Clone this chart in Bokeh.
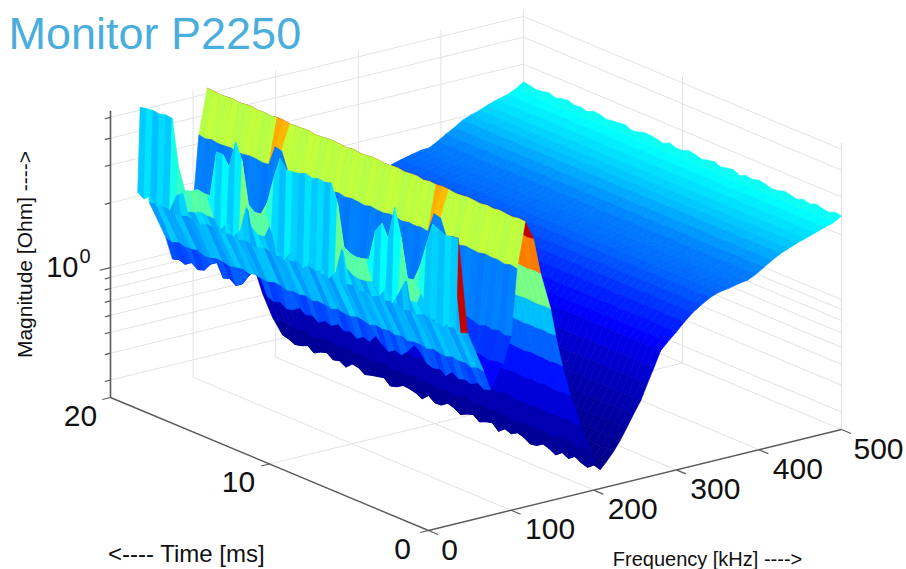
import math
from bokeh.plotting import figure
from bokeh.models import Range1d, ColumnDataSource
from bokeh.core.properties import value
from bokeh.embed import file_html
from bokeh.resources import INLINE

title = "Monitor P2250"
time_label = "<---- Time [ms]"
freq_label = "Frequency [kHz] ---->"
mag_label = "Magnitude [Ohm] ---->"
freq_ticks = [0, 100, 200, 300, 400, 500]
time_ticks = [0, 10, 20]
mag_ticks = [0.3, 0.4, 0.5, 0.6, 0.7, 0.8, 0.9, 1, 2, 3, 4, 5]

# time samples of the surface, ms
times = [0.4 * i for i in range(51)]

# log10(Ohm) along time, front ridge
row33 = [.30, .32, .29, .31, .30, .38, .43, .435, .43, .36,
         .30, .36, .31, .36, .445, .435, .43, .435, .455, .33,
         .29, .32, .30, .33, .29, .31, .34, .29, .32, .40,
         .48, .445, .44, .465, .34, .30, .35, .31, .35, .43,
         .43, .435, .415, .405, .38, .30, .32, .29, .33, .30, .32]
row36 = [.722, .717, .708, .722, .736, .629, .515, .44, .435, .615,
         .740, .582, .642, .596, .45, .44, .435, .44, .46, .652,
         .731, .722, .726, .717, .726, .712, .708, .703, .745, .642,
         .515, .45, .445, .47, .661, .736, .605, .652, .652, .435,
         .435, .44, .42, .41, .506, .722, .726, .717, .722, .717, .712]
row40 = [.56, .55, .54, .55, .56, .50, .42, .335, .33, .50,
         .56, .48, .52, .48, .345, .335, .33, .335, .355, .52,
         .56, .55, .56, .55, .56, .55, .55, .54, .56, .52,
         .42, .345, .34, .365, .52, .56, .49, .52, .52, .33,
         .33, .335, .32, .31, .42, .55, .56, .55, .56, .55, .55]
row75 = [-.02, -.03, -.01, -.03, -.02, -.03, -.01, -.04, -.02, -.03,
         -.02, .02, .04, .00, -.03, -.02, -.04, -.02, .01, -.03,
         -.02, -.04, -.02, -.03, -.01, -.03, -.02, -.04, -.02, -.03,
         -.01, -.03, -.04, -.02, -.03, -.02, .05, .09, .04, -.01,
         -.03, -.01, -.02, .04, .02, -.02, -.03, -.01, -.03, -.02, -.03]
row107_peaks = [0, 0, 0, 0, 0, 0, 0, 0, 0, 0,
                0, 0, .09, .09, 0, 0, 0, 0, 0, 0,
                0, 0, 0, 0, 0, 0, 0, 0, 0, 0,
                0, 0, 0, 0, 0, 0, 0, .09, .09, 0,
                0, 0, 0, 0, 0, 0, 0, 0, 0, 0, 0]

ripple_a = [.008, -.006, .011, -.003, .007, -.010, .004, .012, -.008, .002,
            -.012, .006, .010, -.004, .009, -.011, .003, -.007, .012, -.002,
            .005, -.009, .010, -.005, .001, .011, -.012, .006, -.003, .009,
            -.008, .004, .012, -.010, .002, .007, -.006, .011, -.001, -.009,
            .005, .010, -.012, .003, .008, -.004, -.011, .006, .001, .009, -.007]
ripple_b = [-.004, .009, -.011, .006, .002, .012, -.007, -.002, .010, -.009,
            .005, .001, -.012, .008, -.005, .011, -.001, .007, -.010, .004,
            .012, -.006, -.003, .009, -.011, .002, .007, -.008, .010, -.004,
            .003, -.012, .006, .011, -.007, -.001, .009, -.005, .012, .002,
            -.010, .004, .008, -.006, -.012, .010, .001, -.003, .011, -.009, .005]
ripple_c = [.003, .010, -.008, -.001, .012, -.005, .007, -.011, .001, .009,
            -.006, -.010, .004, .011, -.002, .006, -.012, .009, .003, -.007,
            .010, .002, -.009, .005, .012, -.004, -.006, .011, -.010, .001,
            .007, .009, -.005, -.012, .008, .003, -.002, -.009, .006, .010,
            -.011, .002, -.004, .012, .005, -.008, .009, -.001, -.006, .004, .010]

# frequency rows: kHz, log10(Ohm), ripple series, ripple scale
row_freq = [47, 67, 90, 100, 107, 117, 127, 135.6, 147.7, 153.8, 162, 172, 184, 196, 208,
            216, 224, 232, 240, 248, 257, 265, 273, 281, 290, 300, 310, 320, 330, 341,
            352, 364, 376, 386, 396, 406, 416, 426, 436, 446, 456, 468, 480, 490, 500]
row_level = [.265, .075, .080, .200, .515, .722, .633, .466, .289, .159, .010, -.139, -.288, -.418, -.520,
             -.488, -.446, -.404, -.353, -.297, -.241, -.171, -.102, -.032, .001, .038, .075, .108, .135, .159,
             .173, .182, .191, .196, .215, .238, .261, .284, .298, .312, .326, .340, .354, .368, .387]
row_ripple = [ripple_a, ripple_b, ripple_c, ripple_a, ripple_b, ripple_c, ripple_a, ripple_b, ripple_c, ripple_a,
              ripple_b, ripple_c, ripple_a, ripple_b, ripple_c, ripple_a, ripple_b, ripple_c, ripple_a, ripple_b,
              ripple_c, ripple_a, ripple_b, ripple_c, ripple_a, ripple_b, ripple_c, ripple_a, ripple_b, ripple_c,
              ripple_a, ripple_b, ripple_c, ripple_a, ripple_b, ripple_c, ripple_a, ripple_b, ripple_c, ripple_a,
              ripple_b, ripple_c, ripple_a, ripple_b, ripple_c]
row_scale = [.8, .6, .6, .8, .4, .3, .3, .2, .2, .2, .3, .4, .5, .8, 1.3,
             .5, .3, .2, .15, .15, .15, .15, .15, .15, .15, .15, .15, .15, .15, .15,
             .15, .15, .15, .15, .15, .15, .15, .15, .15, .15, .15, .15, .2, .3, .7]

LOG_FLOOR = -0.604
C_MIN, C_SPAN = 0.25, 5.4


def project(f, t, logm):
    h = (logm - LOG_FLOOR) * 215.0
    return 428 + 0.826 * f - 15.9 * t, 530 - 0.202 * f - 6.65 * t - h


def jet(v):
    v = max(0.0, min(1.0, v))
    r = max(0.0, min(1.0, min(4 * v - 1.5, -4 * v + 4.5)))
    g = max(0.0, min(1.0, min(4 * v - 0.5, -4 * v + 3.5)))
    b = max(0.0, min(1.0, min(4 * v + 0.5, -4 * v + 2.5)))
    return "#%02x%02x%02x" % (int(r * 255), int(g * 255), int(b * 255))


# assemble the surface table
surface = [(33, row33), (36, row36), (40, row40), (75, row75)]
for i, f in enumerate(row_freq):
    vals = [row_level[i] + row_ripple[i][j] * row_scale[i] for j in range(len(times))]
    if f == 107:
        vals = [v + d for v, d in zip(vals, row107_peaks)]
    surface.append((f, vals))
surface.sort(key=lambda r: r[0])


def cell_shade(f0, z0, j):
    if f0 == 36 and j > 0:
        return min(z0[j], 0.44)
    if f0 == 40:
        return row36[0] if j == 0 else 0.29 + ripple_a[j] * 3
    if f0 == 47:
        return z0[j] + ripple_b[j] * 3
    if f0 == 67:
        return z0[j] + 0.05 + ripple_c[j] * 3
    return z0[j]


xs, ys, cols = [], [], []
for k in range(len(surface) - 2, -1, -1):
    f0, z0 = surface[k]
    f1, z1 = surface[k + 1]
    for j in range(len(times) - 2, -1, -1):
        t0, t1 = times[j], times[j + 1]
        corners = [project(f0, t0, z0[j]), project(f1, t0, z1[j]),
                   project(f1, t1, z1[j + 1]), project(f0, t1, z0[j + 1])]
        xs.append([c[0] for c in corners])
        ys.append([c[1] for c in corners])
        cols.append(jet((10 ** cell_shade(f0, z0, j) - C_MIN) / C_SPAN))

p = figure(width=906, height=569, output_backend="svg", toolbar_location=None,
           x_range=Range1d(0, 906), y_range=Range1d(569, 0), min_border=0)
p.xaxis.visible = False
p.yaxis.visible = False
p.grid.visible = False
p.outline_line_color = None

GRID = "#e2e2e2"
AXIS = "#5a5a5a"
log_top, log_bot = 0.73, LOG_FLOOR


def seg(a, b, color, width):
    p.line([a[0], b[0]], [a[1], b[1]], line_color=color, line_width=width)


# walls and floor grid
for f in freq_ticks[1:]:
    seg(project(f, 20, log_bot), project(f, 20, log_top), GRID, 1)
    seg(project(f, 0, log_bot), project(f, 20, log_bot), GRID, 1)
for t in time_ticks:
    seg(project(500, t, log_bot), project(500, t, log_top), GRID, 1)
seg(project(0, 10, log_bot), project(500, 10, log_bot), GRID, 1)
for m in mag_ticks:
    z = math.log10(m)
    seg(project(0, 20, z), project(500, 20, z), GRID, 1)
    seg(project(500, 20, z), project(500, 0, z), GRID, 1)

p.patches(xs="xs", ys="ys", fill_color="c", line_color="c", line_width=0.7,
          source=ColumnDataSource(dict(xs=xs, ys=ys, c=cols)))

# axes
seg(project(0, 0, log_bot), project(500, 0, log_bot), AXIS, 1.4)
seg(project(0, 0, log_bot), project(0, 20, log_bot), AXIS, 1.4)
seg(project(0, 20, log_bot), project(0, 20, log_top), AXIS, 1.6)
for f in freq_ticks:
    seg(project(f, 0, log_bot), project(f, -0.6, log_bot), AXIS, 1.2)
for t in time_ticks:
    seg(project(0, t, log_bot), project(-10, t, log_bot), AXIS, 1.2)
for m in mag_ticks:
    seg(project(0, 20, math.log10(m)), project(-13 if m == 1 else -7, 20, math.log10(m)), AXIS, 1.2)


def txt(x, y, s, size, color="#111111", align="center", angle=0.0):
    p.text([x], [y], text=[s], text_font=value("Liberation Sans"), text_font_size=value(size),
           text_color=color, text_align=align, text_baseline="middle", angle=angle)


freq_dx = [21, 39, 39, 39, 39, 37]
for f, dx in zip(freq_ticks, freq_dx):
    x, y = project(f, 0, log_bot)
    txt(x + dx, y + 19, str(f), "30px")
time_dx = [-26, -31, -30]
for t, dx in zip(time_ticks, time_dx):
    x, y = project(0, t, log_bot)
    txt(x + dx, y + 18, str(t), "30px")

x, y = project(0, 20, 0)
txt(78, y - 1, "10", "29px", align="right")
txt(79, y - 12, "0", "20px", align="left")

txt(8, 33, title, "45px", color="#4aaedd", align="left")
txt(186, 553, time_label, "24px")
txt(707, 558, freq_label, "20px")
txt(24, 254, mag_label, "21px", angle=math.pi / 2)

open("out.html", "w").write(file_html(p, INLINE))
